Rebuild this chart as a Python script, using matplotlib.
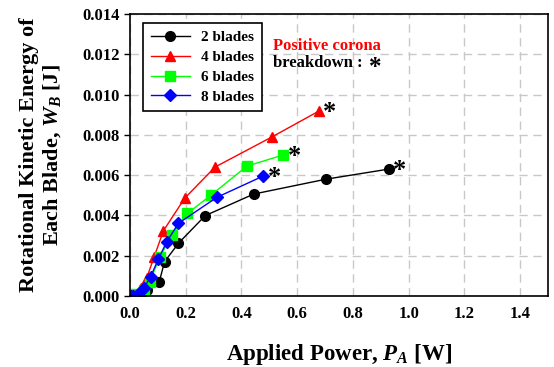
import matplotlib
matplotlib.use("Agg")
import matplotlib.pyplot as plt

# Data
x2 = [0.01, 0.02, 0.04, 0.06, 0.105, 0.124, 0.174, 0.27, 0.444, 0.704, 0.929]
y2 = [0.0, 0.00003, 0.0001, 0.0003, 0.00071, 0.0017, 0.00262, 0.00399, 0.00506, 0.0058, 0.0063]

x4 = [0.01, 0.02, 0.04, 0.06, 0.086, 0.12, 0.196, 0.305, 0.51, 0.678]
y4 = [0.0, 0.0001, 0.0004, 0.0009, 0.00192, 0.00324, 0.00485, 0.0064, 0.0079, 0.00918]

x6 = [0.01, 0.02, 0.05, 0.07, 0.108, 0.15, 0.206, 0.291, 0.42, 0.55]
y6 = [0.0, 0.0001, 0.0003, 0.0007, 0.00195, 0.00303, 0.0041, 0.00501, 0.00645, 0.0070]

x8 = [0.005, 0.01, 0.03, 0.05, 0.074, 0.102, 0.132, 0.174, 0.312, 0.479]
y8 = [0.0, 0.0, 0.0001, 0.0004, 0.00096, 0.00184, 0.0027, 0.00361, 0.0049, 0.00596]

plt.rcParams['font.family'] = ['Liberation Serif', 'DejaVu Serif']
plt.rcParams['font.weight'] = 'bold'
plt.rcParams['mathtext.fontset'] = 'custom'
plt.rcParams['mathtext.rm'] = 'Liberation Serif:bold'
plt.rcParams['mathtext.it'] = 'Liberation Serif:italic:bold'

fig = plt.figure(figsize=(5.54, 3.67), dpi=100)
ax = fig.add_axes([0.2347, 0.1935, 0.7543, 0.7684])

ax.plot(x2, y2, color='black', marker='o', markersize=7, linewidth=1, label='2 blades')
ax.plot(x4, y4, color='red', marker='^', markersize=7, linewidth=1, label='4 blades')
ax.plot(x6, y6, color='#00ff00', marker='s', markersize=6.5, linewidth=1, label='6 blades')
ax.plot(x8, y8, color='blue', marker='D', markersize=6, linewidth=1, label='8 blades')

# breakdown asterisks at the last point of each series
for xs, ys in [(x2, y2), (x4, y4), (x6, y6), (x8, y8)]:
    ax.annotate('*', (xs[-1], ys[-1]), xytext=(3, -1), textcoords='offset points',
                fontsize=19, fontweight='bold', color='black', va='center', ha='left')

ax.set_xlim(0, 1.5)
ax.set_ylim(0, 0.014)
ax.set_xticks([0.0, 0.2, 0.4, 0.6, 0.8, 1.0, 1.2, 1.4])
ax.set_yticks([0.000, 0.002, 0.004, 0.006, 0.008, 0.010, 0.012, 0.014])
ax.xaxis.set_major_formatter(matplotlib.ticker.FormatStrFormatter('%.1f'))
ax.yaxis.set_major_formatter(matplotlib.ticker.FormatStrFormatter('%.3f'))
ax.tick_params(axis='both', labelsize=12, direction='out', length=4, width=1)
ax.tick_params(axis='x', length=0, pad=7)
ax.grid(True, color='#c8c8c8', linestyle=(0, (6, 4)), linewidth=1)
ax.set_axisbelow(True)
for s in ax.spines.values():
    s.set_linewidth(1.2)

ax.set_xlabel('Applied Power, $\\mathit{P_A}$ [W]', fontsize=16.5, fontweight='bold')
ax.xaxis.set_label_coords(0.5, -0.163)
ax.set_ylabel('Rotational Kinetic Energy of\nEach Blade, $\\mathit{W_B}$ [J]',
              fontsize=16, fontweight='bold', linespacing=1.15)
ax.yaxis.set_label_coords(-0.16, 0.5)

leg = ax.legend(loc='upper left', bbox_to_anchor=(0.031, 0.968), fontsize=11,
                handlelength=2.6, frameon=True, fancybox=False, borderpad=0.5,
                labelspacing=0.4, handletextpad=0.7, borderaxespad=0)
leg.get_frame().set_edgecolor('black')
leg.get_frame().set_linewidth(1.2)
leg.get_frame().set_alpha(1)

ax.text(0.342, 0.887, 'Positive corona', transform=ax.transAxes, color='red',
        fontsize=12, fontweight='bold', ha='left', va='center')
ax.text(0.342, 0.826, 'breakdown :', transform=ax.transAxes, color='black',
        fontsize=12, fontweight='bold', ha='left', va='center')
ax.text(0.572, 0.81, '*', transform=ax.transAxes, color='black',
        fontsize=18, fontweight='bold', ha='left', va='center')

fig.savefig('out.png', dpi=100)
